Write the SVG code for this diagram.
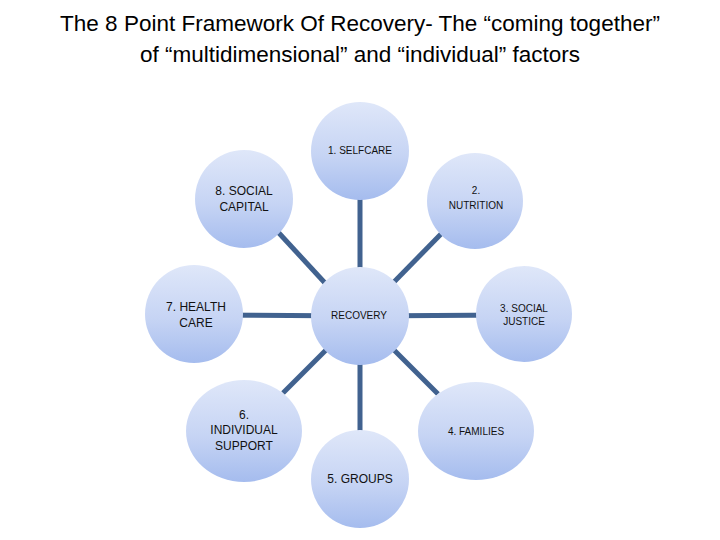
<svg xmlns="http://www.w3.org/2000/svg" width="720" height="540" viewBox="0 0 720 540">
  <defs>
    <linearGradient id="g" x1="0" y1="0" x2="0" y2="1">
      <stop offset="0" stop-color="#dfe7f9"/>
      <stop offset="0.55" stop-color="#c6d4f4"/>
      <stop offset="1" stop-color="#a5bcee"/>
    </linearGradient>
  </defs>
  <style>
    .title { font-family: "Liberation Sans", Arial, sans-serif; font-size: 22.5px; fill: #000; text-anchor: middle; }
    .node { fill: url(#g); }
    .s { font-family: "Liberation Sans", Arial, sans-serif; font-size: 10px; fill: #111; text-anchor: middle; }
    .b { font-family: "Liberation Sans", Arial, sans-serif; font-size: 12px; fill: #111; text-anchor: middle; }
    .conn line { stroke: #41628f; stroke-width: 5; }
  </style>
  <rect width="720" height="540" fill="#fff"/>
  <text class="title" x="360" y="31">The 8 Point Framework Of Recovery- The “coming together”</text>
  <text class="title" x="360" y="62">of “multidimensional” and “individual” factors</text>

  <g id="connectors" class="conn">
    <line x1="360" y1="316" x2="360" y2="151"/>
    <line x1="360" y1="316" x2="360" y2="479"/>
    <line x1="360" y1="316" x2="194" y2="315"/>
    <line x1="360" y1="316" x2="524" y2="315"/>
    <line x1="325" y1="283" x2="278" y2="232"/>
    <line x1="394" y1="282" x2="441" y2="234"/>
    <line x1="326" y1="350" x2="283" y2="393"/>
    <line x1="394" y1="350" x2="438" y2="394"/>
  </g>

  <g id="n1">
    <circle class="node" cx="360" cy="151" r="49"/>
    <text class="s" x="360" y="154">1. SELFCARE</text>
  </g>
  <g id="n2">
    <circle class="node" cx="475" cy="201" r="48"/>
    <text class="s" x="476" y="194">2.</text>
    <text class="s" x="476" y="209">NUTRITION</text>
  </g>
  <g id="n3">
    <circle class="node" cx="524" cy="314" r="48"/>
    <text class="s" x="524" y="312">3. SOCIAL</text>
    <text class="s" x="524" y="325">JUSTICE</text>
  </g>
  <g id="n4">
    <ellipse class="node" cx="476" cy="431" rx="58" ry="49"/>
    <text class="s" x="476" y="435">4. FAMILIES</text>
  </g>
  <g id="n5">
    <circle class="node" cx="360" cy="479" r="49"/>
    <text class="b" x="360" y="483">5. GROUPS</text>
  </g>
  <g id="n6">
    <ellipse class="node" cx="244" cy="431" rx="58" ry="51"/>
    <text class="b" x="244" y="419">6.</text>
    <text class="b" x="244" y="434">INDIVIDUAL</text>
    <text class="b" x="244" y="450">SUPPORT</text>
  </g>
  <g id="n7">
    <circle class="node" cx="194" cy="314" r="49"/>
    <text class="b" x="196" y="311">7. HEALTH</text>
    <text class="b" x="196" y="327">CARE</text>
  </g>
  <g id="n8">
    <circle class="node" cx="244" cy="199" r="49"/>
    <text class="b" x="244" y="195">8. SOCIAL</text>
    <text class="b" x="244" y="211">CAPITAL</text>
  </g>
  <g id="recovery">
    <circle class="node" cx="360" cy="316" r="49"/>
    <text class="s" x="359" y="319">RECOVERY</text>
  </g>
</svg>
